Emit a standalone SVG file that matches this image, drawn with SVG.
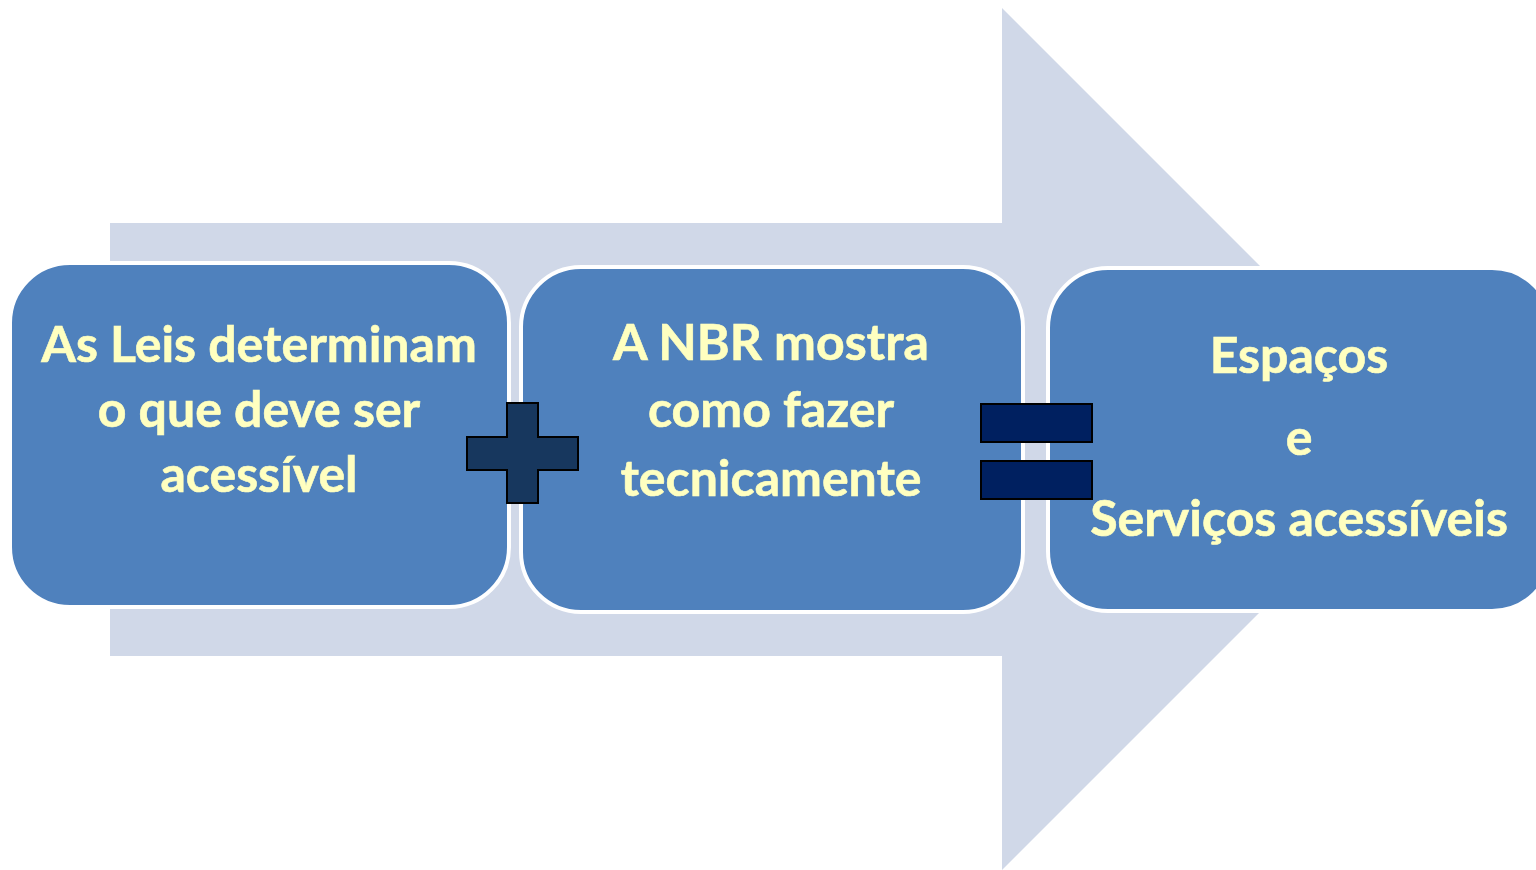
<svg xmlns="http://www.w3.org/2000/svg" width="1536" height="870" viewBox="0 0 1536 870">
<style>
.box{fill:#4F81BD;stroke:#FFFFFF;stroke-width:4}
.t{font-family:Lato,"Open Sans","Liberation Sans",sans-serif;font-weight:bold;font-size:50px;fill:#FFFFC0;text-anchor:middle;stroke:#FFFFC0;stroke-width:0.6}
.op{stroke:#000000;stroke-width:2}
</style>
<rect width="1536" height="870" fill="#FFFFFF"/>
<g id="arrow">
<polygon points="110,223 1002,223 1002,8 1433,439 1002,870 1002,656 110,656" fill="#D0D8E8"/>
</g>
<g id="node1">
<rect class="box" x="10" y="263" width="499" height="344" rx="60"/>
<text class="t" x="259" y="362">As Leis determinam</text>
<text class="t" x="259" y="427">o que deve ser</text>
<text class="t" x="259" y="492">acessível</text>
</g>
<g id="node2">
<rect class="box" x="521" y="267" width="502" height="345" rx="60"/>
<text class="t" x="771" y="360">A NBR mostra</text>
<text class="t" x="771" y="427">como fazer</text>
<text class="t" x="771" y="496">tecnicamente</text>
</g>
<g id="node3">
<rect class="box" x="1048" y="268" width="504" height="343" rx="60"/>
<text class="t" x="1299" y="373">Espaços</text>
<text class="t" x="1299" y="455">e</text>
<text class="t" x="1299" y="536">Serviços acessíveis</text>
</g>
<g id="plus">
<polygon class="op" points="507,403 538,403 538,437 578,437 578,470 538,470 538,503 507,503 507,470 467,470 467,437 507,437" fill="#17375E"/>
</g>
<g id="equals">
<rect class="op" x="981" y="404" width="111" height="38" fill="#002060"/>
<rect class="op" x="981" y="461" width="111" height="38" fill="#002060"/>
</g>
</svg>
